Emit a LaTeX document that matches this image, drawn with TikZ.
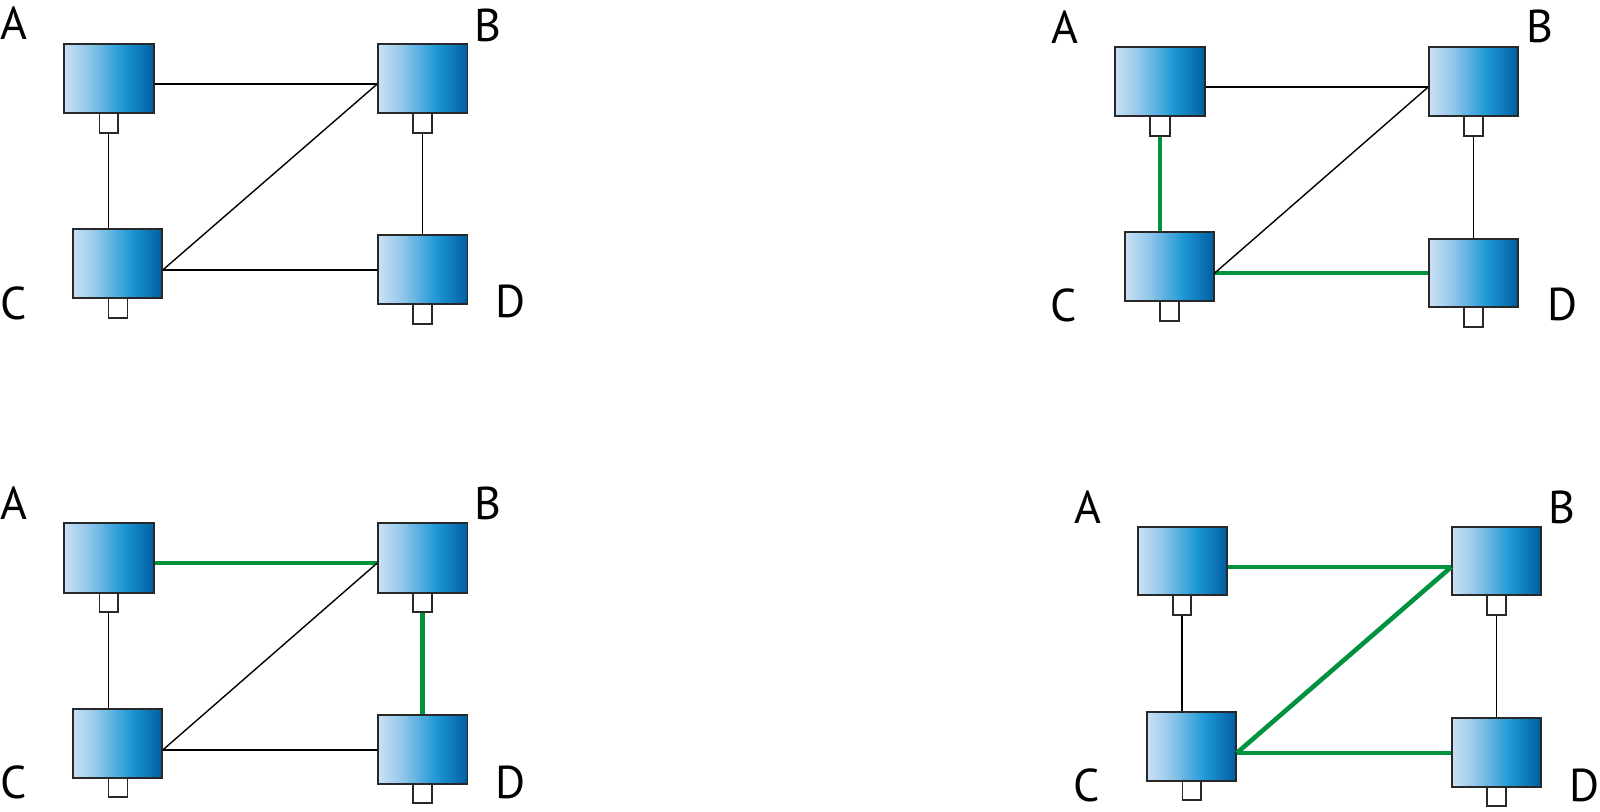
\documentclass[tikz,border=0pt]{standalone}
\usepackage{fontspec}
\setmainfont{PT Sans}
\usetikzlibrary{fit}
\definecolor{gl}{RGB}{203,224,244}
\definecolor{gq}{RGB}{150,201,235}
\definecolor{gm}{RGB}{30,152,213}
\definecolor{gd}{RGB}{0,94,162}
\definecolor{lgreen}{RGB}{0,146,63}
\definecolor{edgegray}{RGB}{40,40,40}
\pgfdeclarehorizontalshading{devshade}{100bp}{color(0bp)=(gl); color(25bp)=(gl); color(37.5bp)=(gq); color(57.5bp)=(gm); color(75bp)=(gd); color(100bp)=(gd)}
\begin{document}
\begin{tikzpicture}[x=0.5pt,y=-0.5pt,
  dev/.style={draw=edgegray, line width=0.75pt, shading=devshade, inner sep=0pt, rectangle},
  port/.style={draw=edgegray, fill=white, line width=0.55pt, inner sep=0pt, rectangle},
  link/.style={draw=black, line width=0.7pt},
  glink/.style={draw=lgreen, line width=2.3pt},
  lab/.style={font=\fontsize{23}{26}\selectfont, inner sep=0pt}]
\useasboundingbox (0,0) rectangle (1600,812);

% ---------- Panel 1 (top left) ----------
\node[dev, fit={(64,44)(154,113)}] (p1A) {};
\node[port, fit={(99.5,113)(118,133)}] (p1Ap) {};
\node[dev, fit={(378,44)(467.5,113)}] (p1B) {};
\node[port, fit={(413,113)(432,133)}] (p1Bp) {};
\node[dev, fit={(73,229)(162,298)}] (p1C) {};
\node[port, fit={(108.5,298)(127.5,318)}] (p1Cp) {};
\node[dev, fit={(378,235)(467.5,304)}] (p1D) {};
\node[port, fit={(413,304)(432,324)}] (p1Dp) {};
\node[lab] (p1la) at (14,23) {A};
\node[lab] (p1lb) at (488,25) {B};
\node[lab] (p1lc) at (14,303) {C};
\node[lab] (p1ld) at (511,301) {D};
\draw[link] ([yshift=-2.75pt]p1A.east) -- ([yshift=-2.75pt]p1B.west);
\draw[link] (p1Ap.south) -- (p1Ap.south |- p1C.north);
\draw[link] (p1Bp.south) -- (p1Bp.south |- p1D.north);
\draw[link] ([yshift=-3.25pt]p1C.east) -- ([yshift=-3.25pt]p1C.east -| p1D.west);
\draw[link] ([yshift=-3.25pt]p1C.east) -- ([yshift=-2.75pt]p1B.west);

% ---------- Panel 2 (top right) ----------
\node[dev, fit={(1115,47)(1205,116)}] (p2A) {};
\node[port, fit={(1150,116)(1170,136)}] (p2Ap) {};
\node[dev, fit={(1429,47)(1518,116)}] (p2B) {};
\node[port, fit={(1464,116)(1483,136)}] (p2Bp) {};
\node[dev, fit={(1125,232)(1214,301)}] (p2C) {};
\node[port, fit={(1160,301)(1179,321)}] (p2Cp) {};
\node[dev, fit={(1429,239)(1518,307)}] (p2D) {};
\node[port, fit={(1464,307)(1483,327)}] (p2Dp) {};
\node[lab] (p2la) at (1065,27) {A};
\node[lab] (p2lb) at (1540,26) {B};
\node[lab] (p2lc) at (1064,305) {C};
\node[lab] (p2ld) at (1563,304) {D};
\draw[link] ([yshift=-2.75pt]p2A.east) -- ([yshift=-2.75pt]p2B.west);
\draw[glink] (p2Ap.south) -- (p2Ap.south |- p2C.north);
\draw[link] (p2Bp.south) -- (p2Bp.south |- p2D.north);
\draw[glink] ([yshift=-3.25pt]p2C.east) -- ([yshift=-3.25pt]p2C.east -| p2D.west);
\draw[link] ([yshift=-3.25pt]p2C.east) -- ([yshift=-2.75pt]p2B.west);

% ---------- Panel 3 (bottom left) ----------
\node[dev, fit={(64,523)(154,593)}] (p3A) {};
\node[port, fit={(99.5,593)(118,612)}] (p3Ap) {};
\node[dev, fit={(378,523)(467.5,593)}] (p3B) {};
\node[port, fit={(413,593)(432,612)}] (p3Bp) {};
\node[dev, fit={(73,709)(162,778)}] (p3C) {};
\node[port, fit={(108.5,778)(127.5,797)}] (p3Cp) {};
\node[dev, fit={(378,715)(467.5,784)}] (p3D) {};
\node[port, fit={(413,784)(432,803)}] (p3Dp) {};
\node[lab] (p3la) at (14,503) {A};
\node[lab] (p3lb) at (488,503) {B};
\node[lab] (p3lc) at (14,782) {C};
\node[lab] (p3ld) at (511,782) {D};
\draw[glink] ([yshift=-2.5pt]p3A.east) -- ([yshift=-2.5pt]p3B.west);
\draw[link] (p3Ap.south) -- (p3Ap.south |- p3C.north);
\draw[glink] (p3Bp.south) -- (p3Bp.south |- p3D.north);
\draw[link] ([yshift=-3.25pt]p3C.east) -- ([yshift=-3.25pt]p3C.east -| p3D.west);
\draw[link] ([yshift=-3.25pt]p3C.east) -- ([yshift=-2.5pt]p3B.west);

% ---------- Panel 4 (bottom right) ----------
\node[dev, fit={(1138,527)(1227,595)}] (p4A) {};
\node[port, fit={(1173,595)(1191,615)}] (p4Ap) {};
\node[dev, fit={(1452,527)(1541,595)}] (p4B) {};
\node[port, fit={(1487,595)(1506,615)}] (p4Bp) {};
\node[dev, fit={(1147,712)(1236,781)}] (p4C) {};
\node[port, fit={(1182.5,781)(1201,800)}] (p4Cp) {};
\node[dev, fit={(1452,718)(1541,787)}] (p4D) {};
\node[port, fit={(1487,787)(1506,806)}] (p4Dp) {};
\node[lab] (p4la) at (1088,507) {A};
\node[lab] (p4lb) at (1562,507) {B};
\node[lab] (p4lc) at (1087,785) {C};
\node[lab] (p4ld) at (1585,785) {D};
\draw[glink] ([yshift=-3pt]p4A.east) -- ([yshift=-3pt]p4B.west);
\draw[link] (p4Ap.south) -- (p4Ap.south |- p4C.north);
\draw[link] (p4Bp.south) -- (p4Bp.south |- p4D.north);
\draw[glink] ([yshift=-3.25pt]p4C.east) -- ([yshift=-3.25pt]p4C.east -| p4D.west);
\draw[glink] ([yshift=-3.25pt]p4C.east) -- ([yshift=-3pt]p4B.west);
\end{tikzpicture}
\end{document}
